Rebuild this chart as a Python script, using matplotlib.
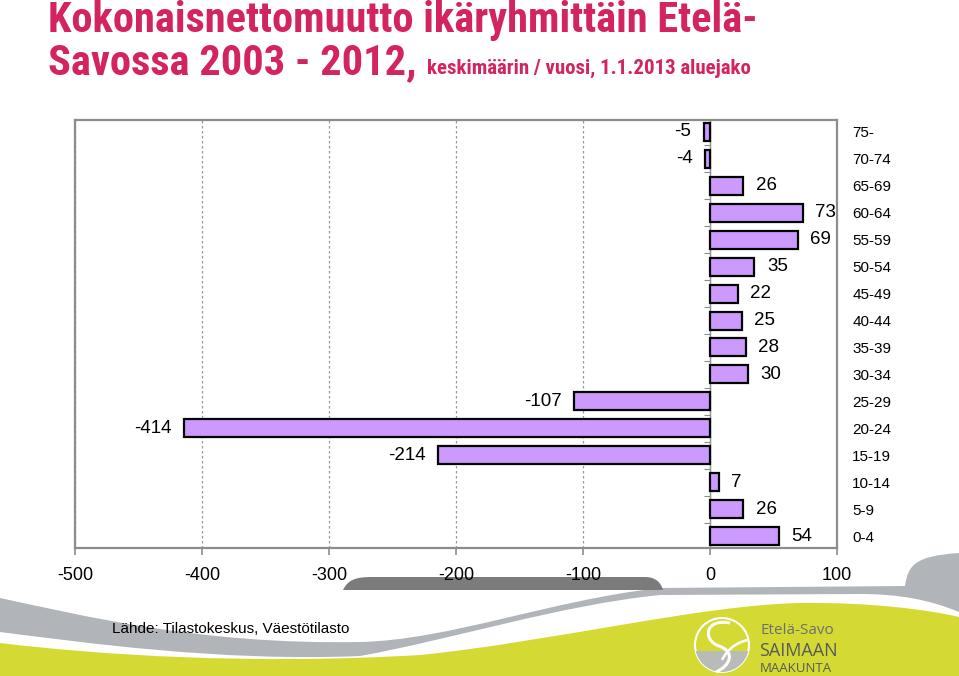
import numpy as np
import matplotlib
matplotlib.use("Agg")
import matplotlib.pyplot as plt
from matplotlib.path import Path
from matplotlib.patches import PathPatch, Circle, Rectangle

# data: net migration by age group, bottom to top
age_groups = ["0-4", "5-9", "10-14", "15-19", "20-24", "25-29", "30-34", "35-39",
              "40-44", "45-49", "50-54", "55-59", "60-64", "65-69", "70-74", "75-"]
net_migration = [54, 26, 7, -214, -414, -107, 30, 28, 25, 22, 35, 69, 73, 26, -4, -5]
x_ticks = [-500, -400, -300, -200, -100, 0, 100]

title_line1 = "Kokonaisnettomuutto ikäryhmittäin Etelä-"
title_line2 = "Savossa 2003 - 2012,"
subtitle = "keskimäärin / vuosi, 1.1.2013 aluejako"
source = "Lähde: Tilastokeskus, Väestötilasto"

W, H = 959, 676
pink = "#d3245f"
narrow = ["Roboto Condensed", "PT Sans Narrow", "DejaVu Sans"]
plt.rcParams["font.family"] = ["Liberation Sans", "DejaVu Sans"]

fig = plt.figure(figsize=(W / 100, H / 100), dpi=100)
fig.patch.set_facecolor("white")

# ---- background decoration (pixel coords) ----
bg = fig.add_axes([0, 0, 1, 1], zorder=0)
bg.set_xlim(0, W)
bg.set_ylim(H, 0)
bg.axis("off")

M, L, C, Z = Path.MOVETO, Path.LINETO, Path.CURVE4, Path.CLOSEPOLY

def shape(verts, codes, color):
    bg.add_patch(PathPatch(Path(verts, codes), facecolor=color, edgecolor="none"))

# gray swoosh
shape([(0, 598), (80, 615), (200, 645), (360, 642), (450, 640), (550, 600), (660, 588),
       (905, 586), (908, 565), (915, 556), (959, 553), (959, 612),
       (930, 600), (900, 594), (860, 594), (660, 595),
       (560, 605), (450, 640), (360, 656), (220, 662), (80, 642), (0, 632), (0, 598)],
      [M, C, C, C, C, C, C, L, C, C, C, L, C, C, C, L, C, C, C, C, C, C, Z], "#b1b4b9")
# green area
shape([(0, 643), (100, 655), (250, 665), (420, 655), (550, 642), (700, 605), (800, 603),
       (870, 602), (930, 610), (959, 617), (959, 676), (0, 676), (0, 643)],
      [M, C, C, C, C, C, C, C, C, C, L, L, Z], "#d4da33")
# dark gray tab under tick labels
shape([(343, 590), (348, 580), (355, 577), (372, 577), (645, 577), (656, 577), (661, 583),
       (663, 590), (343, 590)],
      [M, C, C, C, L, C, C, C, Z], "#7b7b7b")

# logo
logo = Circle((722, 645), 27, facecolor="#d4da33", edgecolor="white", lw=1.5)
bg.add_patch(logo)
lower = Rectangle((690, 651), 70, 30, facecolor="#b9bcb6", edgecolor="none")
lower.set_clip_path(logo)
bg.add_patch(lower)
swirl = Path([(730, 623), (705, 618), (702, 640), (719, 646), (736, 652), (730, 666), (716, 672)],
             [M, C, C, C, C, C, C])
bg.add_patch(PathPatch(swirl, facecolor="none", edgecolor="white", lw=2.2))
leaf = Path([(722, 660), (728, 648), (738, 642), (748, 640)], [M, C, C, C])
bg.add_patch(PathPatch(leaf, facecolor="none", edgecolor="white", lw=1.8))
logo_font = ["Open Sans", "DejaVu Sans"]
bg.text(760, 630, "Etelä-Savo", fontsize=11, color="#6d6e70", va="center", family=logo_font)
bg.text(759, 651, "SAIMAAN", fontsize=13, color="#58595b", va="center", family=logo_font)
bg.text(760, 668, "MAAKUNTA", fontsize=9.5, color="#58595b", va="center", family=logo_font)

bg.text(112, 629, source, fontsize=11, color="black", va="center")

# ---- titles ----
fig.text(48 / W, 1 - 32 / H, title_line1, fontsize=30.5, fontweight="bold", color=pink,
         family=narrow, va="baseline")
fig.text(48 / W, 1 - 74 / H, title_line2, fontsize=30.5, fontweight="bold", color=pink,
         family=narrow, va="baseline")
fig.text(427 / W, 1 - 74 / H, subtitle, fontsize=15, fontweight="bold", color=pink,
         family=narrow, va="baseline")

# ---- chart ----
ax = fig.add_axes([75 / W, 1 - 548 / H, (837 - 75) / W, (548 - 120) / H], zorder=1)
ax.set_facecolor("white")
y = np.arange(len(age_groups))
ax.barh(y, net_migration, height=0.67, color="#cc99ff", edgecolor="black", linewidth=1.6, zorder=3)

for yi, v in zip(y, net_migration):
    off = 9 if v > 0 else -9
    ax.annotate(str(v), (v, yi), xytext=(off, 0), textcoords="offset points",
                ha="left" if v > 0 else "right", va="center", fontsize=13.5, zorder=4)

ax.set_xlim(-500, 100)
ax.set_ylim(-0.445, len(age_groups) - 1 + 0.445)
ax.set_xticks(x_ticks)
ax.set_xticklabels([str(t) for t in x_ticks], fontsize=13)
ax.tick_params(axis="x", length=5, width=1.2, color="#8c8c8c", pad=8.5)

ax.set_yticks(y)
ax.set_yticklabels(age_groups, fontsize=11)
ax.yaxis.tick_right()
ax.tick_params(axis="y", length=0, pad=11)

ax.xaxis.grid(True, linestyle=(0, (2, 2)), color="#9a9a9a", lw=0.9, zorder=0)
for s in ax.spines.values():
    s.set_color("#8c8c8c")
    s.set_linewidth(1.6)

# axis line with ticks at zero
sec = ax.secondary_yaxis(500 / 600)
sec.set_alignment("left")
sec.set_yticks(np.arange(-0.5, len(age_groups), 1))
sec.tick_params(axis="y", direction="out", length=4, color="#8c8c8c", labelleft=False, labelright=False)
for s in sec.spines.values():
    s.set_color("#8c8c8c")
    s.set_linewidth(1.0)

fig.savefig("out.png", dpi=100)
